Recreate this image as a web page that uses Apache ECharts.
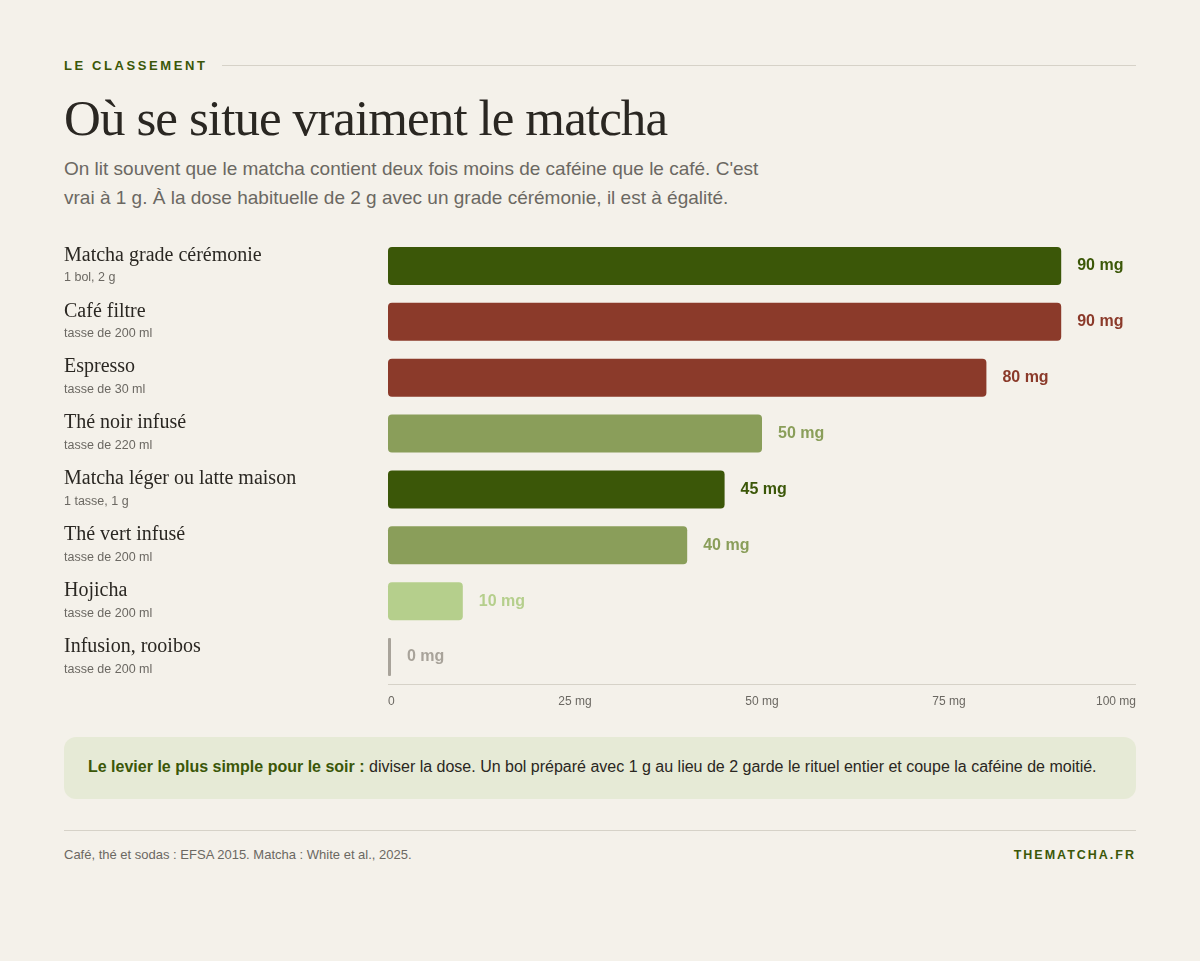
<!DOCTYPE html>
<html><head><meta charset="utf-8">
<script src="https://cdn.jsdelivr.net/npm/echarts@6/dist/echarts.min.js"></script>
<style>
body{margin:0;background:#f4f1ea;width:1200px;height:961px;position:relative;overflow:hidden;font-family:"Liberation Sans",Arial,sans-serif}
.abs{position:absolute}
#kick{left:64px;top:58px;font-size:13px;font-weight:bold;letter-spacing:2.6px;color:#3b5708}
#kline{left:222px;top:65px;width:914px;height:1px;background:#d6d2c8}
#title{left:64px;top:88px;font-family:"Liberation Serif",serif;font-size:51px;letter-spacing:-0.9px;color:#2a2722;line-height:60px}
#sub{left:64px;top:154px;width:722px;font-size:19px;line-height:29px;color:#6b6862}
#chart{left:0;top:0;width:1200px;height:961px}
#box{left:64px;top:737px;width:1072px;height:62px;background:#e6ead6;border-radius:12px}
#boxt{left:88px;top:758px;font-size:16px;color:#2a2722}
#boxt b{color:#3b5708}
#fline{left:64px;top:830px;width:1072px;height:1px;background:#d6d2c8}
#src{left:64px;top:847px;font-size:13px;color:#6b6862}
#brand{right:64px;top:848px;font-size:12.5px;font-weight:bold;letter-spacing:2px;color:#3b5708}
</style></head><body>
<div class="abs" id="kick">LE CLASSEMENT</div><div class="abs" id="kline"></div>
<div class="abs" id="title">Où se situe vraiment le matcha</div>
<div class="abs" id="sub">On lit souvent que le matcha contient deux fois moins de caféine que le café. C'est vrai à 1 g. À la dose habituelle de 2 g avec un grade cérémonie, il est à égalité.</div>
<div class="abs" id="box"></div>
<div class="abs" id="boxt"><b>Le levier le plus simple pour le soir :</b> diviser la dose. Un bol préparé avec 1 g au lieu de 2 garde le rituel entier et coupe la caféine de moitié.</div>
<div class="abs" id="fline"></div>
<div class="abs" id="src">Café, thé et sodas : EFSA 2015. Matcha : White et al., 2025.</div>
<div class="abs" id="brand">THEMATCHA.FR</div>
<div class="abs" id="chart"></div>
<script>
const categories=["Matcha grade cérémonie","Café filtre","Espresso","Thé noir infusé","Matcha léger ou latte maison","Thé vert infusé","Hojicha","Infusion, rooibos"];
const subtitles=["1 bol, 2 g","tasse de 200 ml","tasse de 30 ml","tasse de 220 ml","1 tasse, 1 g","tasse de 200 ml","tasse de 200 ml","tasse de 200 ml"];
const values=[90,90,80,50,45,40,10,0];
const colors=["#3b5708","#8b3a2a","#8b3a2a","#8a9e5a","#3b5708","#8a9e5a","#b5cf8c","#a8a39a"];
const tickLabels=["0","25 mg","50 mg","75 mg","100 mg"];
const chart=echarts.init(document.getElementById('chart'));
chart.setOption({
 animation:false,
 grid:{left:388,right:64,top:238,height:447},
 xAxis:{type:'value',min:0,max:100,interval:25,splitLine:{show:false},axisTick:{show:false},
  axisLine:{show:false},
  axisLabel:{margin:11,fontSize:12,color:'#6b6862',alignMinLabel:'left',alignMaxLabel:'right',
   formatter:(v)=>tickLabels[v/25]}},
 yAxis:{type:'category',inverse:true,data:categories,axisLine:{show:false},axisTick:{show:false},
  axisLabel:{align:'left',margin:324,formatter:(v,i)=>'{n|'+v+'}\n{s|'+subtitles[i]+'}',
   rich:{n:{fontFamily:'Liberation Serif',fontSize:20,color:'#2a2722',lineHeight:24,padding:[5,0,0,0]},
         s:{fontSize:12.5,color:'#6b6862',lineHeight:26}}}},
 series:[{type:'bar',barWidth:38,barMinHeight:3,
  data:values.map((v,i)=>({value:v,itemStyle:{color:colors[i],borderRadius:v>0?4:1},
   label:{color:colors[i]}})),
  label:{show:true,position:'right',distance:16,fontSize:16,fontWeight:'bold',formatter:'{c} mg'}},
  {type:'line',data:[],markLine:{silent:true,symbol:'none',label:{show:false},
   lineStyle:{color:'#d6d2c8',type:'solid',width:1},data:[[{coord:[0,7],y:684},{coord:[100,7],y:684}]]}}]
});
</script></body></html>
